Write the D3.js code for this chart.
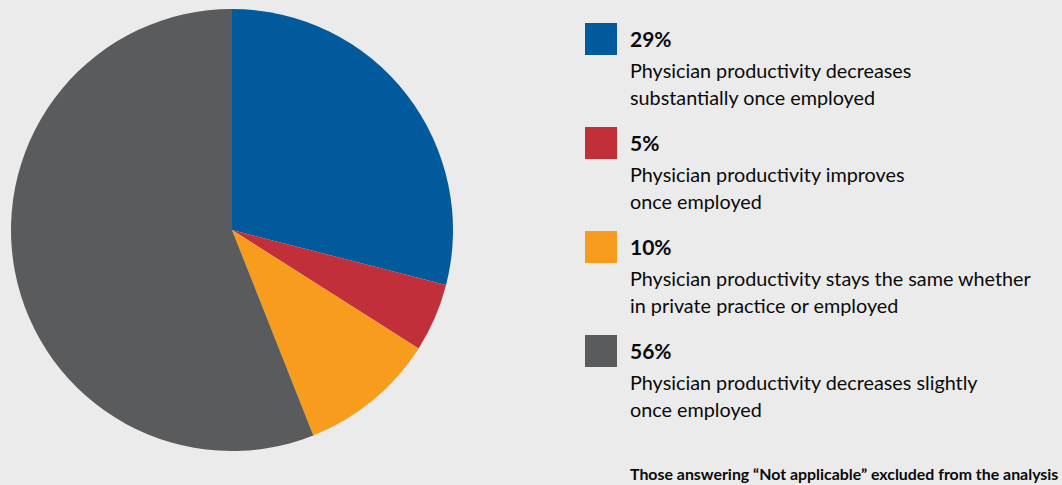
<!DOCTYPE html>
<html><head><meta charset="utf-8">
<script src="https://d3js.org/d3.v7.min.js"></script>
<style>
html,body{margin:0;padding:0;background:#ebebeb;}
svg{display:block;}
text{font-family:Lato,"Noto Sans",sans-serif;fill:#0a0a0a;}
</style></head>
<body>
<script>
const categories = ["Physician productivity decreases substantially once employed",
  "Physician productivity improves once employed",
  "Physician productivity stays the same whether in private practice or employed",
  "Physician productivity decreases slightly once employed"];
const labelLines = [["Physician productivity decreases","substantially once employed"],
  ["Physician productivity improves","once employed"],
  ["Physician productivity stays the same whether","in private practice or employed"],
  ["Physician productivity decreases slightly","once employed"]];
const values = [29, 5, 10, 56];
const colors = ["#005a9c", "#c1303a", "#f89c1e", "#5a5b5d"];
const footnote = "Those answering \u201cNot applicable\u201d excluded from the analysis";

const W = 1062, H = 485;
const svg = d3.select("body").append("svg").attr("width", W).attr("height", H);
svg.append("rect").attr("width", W).attr("height", H).attr("fill", "#ebebeb");

const cx = 232, cy = 230, r = 221;
const pie = d3.pie().sort(null).value(d => d);
const arc = d3.arc().innerRadius(0).outerRadius(r);
const g = svg.append("g").attr("transform", `translate(${cx},${cy})`);
g.selectAll("path").data(pie(values)).join("path")
  .attr("d", arc).attr("fill", (d, i) => colors[i]);

const yScale = d3.scalePoint().domain(d3.range(values.length)).range([23, 335]);
const leg = svg.append("g").selectAll("g").data(values).join("g")
  .attr("transform", (d, i) => `translate(585,${yScale(i)})`);
leg.append("rect").attr("width", 32).attr("height", 32).attr("fill", (d, i) => colors[i]);
leg.append("text").attr("x", 45).attr("y", 24).attr("font-size", 21).attr("font-weight", 700)
  .text(d => d + "%");
leg.each(function(d, i) {
  const t = d3.select(this).append("text").attr("x", 45).attr("y", 55).attr("font-size", 19.8);
  labelLines[i].forEach((ln, j) => t.append("tspan").attr("x", 45).attr("dy", j ? 27 : 0).text(ln));
});
svg.append("text").attr("x", 630).attr("y", 480).attr("font-size", 15.9).attr("font-weight", 700)
  .text(footnote);
</script>
</body></html>
